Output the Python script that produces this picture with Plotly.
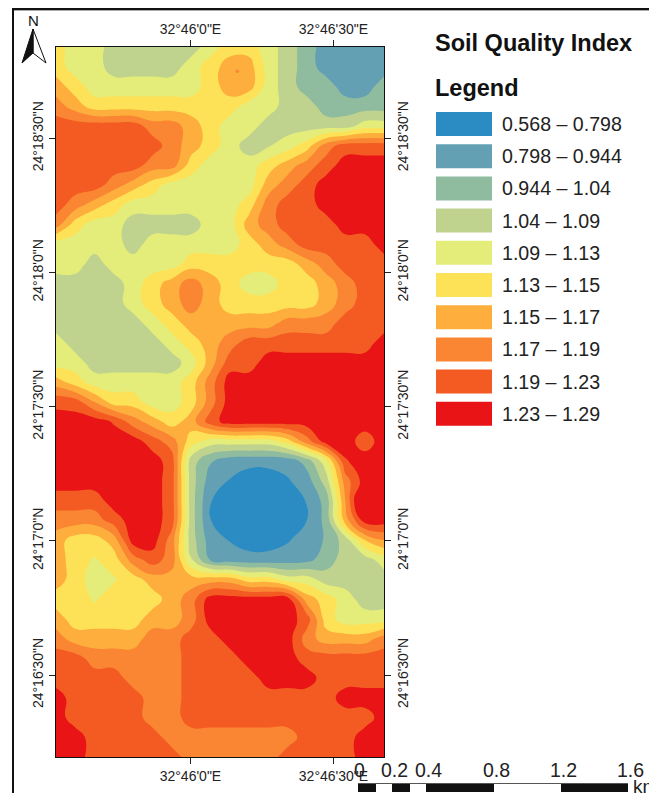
import plotly.graph_objects as go

# Soil quality class score (0 = lowest ... 9 = highest band), north to south
soil_class_rows = [
 "5 4 4 3 3 3 3 3 4 5 5 4 3 2 1 1 1 1",
 "5 4 4 3 3 3 3 4 5 6 6 4 3 2 1 1 1 1",
 "6 5 4 4 4 4 4 4 5 6 6 4 3 2 2 1 1 2",
 "7 6 5 5 5 5 5 5 5 5 4 4 3 3 2 2 2 2",
 "8 8 8 8 8 7 7 6 5 4 4 3 3 3 3 3 4 4",
 "8 8 8 8 8 8 7 6 5 4 3 3.4 4 5 7 8 8 8",
 "8 8 8 8 8 7 7 5 4 4 4 5 6 7 8 9 9 9",
 "8 8 8 7 6 5 4 4 4 4 4 6 7 8 9 9 9 9",
 "8 7 6 5 4 4 4 4 4 4 5 7 8 8 9 9 9 9",
 "7 5 4 4 3 3 3 3 4 4 6 7 8 8 8 9 9 9",
 "4 4 4 4 3 4 4 4 4 4 5 6 7 8 8 8 8 9",
 "4 4 3 4 4 4 4 5 5 5 5 5 5 6 7 8 8 8",
 "3 3 3 3 4 5 6 7 6 5 4 4 5 5 6 7 8 8",
 "3 3 3 3 4 5 6 7 6 5 5 5 5 5 6 7 8 8",
 "3 3 3 3 3 4 5 6 6 6 6 6 7 7 7 8 8 8",
 "4 3 3 3 3 3 4 5 6 7 8 8 8 8 8 8 8 9",
 "4 4 3 3 3 3 3 4 6 8 8 9 9 9 9 9 9 9",
 "6 5 4 4 4 4 4 5 7 9 9 9 9 9 9 9 9 9",
 "8.2 8 6.5 5 5 4 4 5 7 9 9 9 9 9 9 9 9 9",
 "9 9 9 8.4 7 6 5 6 8 9 9 9 9 9 9 9 9 9",
 "9 9 9 9 9 8 7 5 4 4 4 4 5 7 9 9 8 9",
 "9 9 9 9 9 9 8 3 1.6 0.9 0.8 0.8 0.9 1.9 4.2 8.4 9 9",
 "9 9 9 9 9 9 8 3 1 0.45 0 0 0.4 1 3 7 9 9",
 "8 8 8 9 9 9 8 3 0.55 0 0 0 0 0.55 1.9 6.5 11 10",
 "7 7 7 8 9 9 8 3 0.52 0 0 0 0 0.5 1.8 6 9 9",
 "6 5 5 6 9 9 7 3 1 0.45 0 0 0.4 1 1.6 3 5.5 6.5",
 "6 5 4.4 5 7 8 7 3.6 1.4 1 0.9 0.9 1 1.2 2 3 3 4",
 "6 5 4 4.4 5 6 6 6 6 6 5 5 4 4 3 3 3 3",
 "5 5 4.4 5 5 5 6 7 9 9 9 9 9 6 5 4 3 3",
 "6 5 5 5 5 6 6 7 9 9 9 9 9 8 5 4 4 4",
 "7 6 6 6 6 7 7 8 8 9 9 9 9 7 6 6 6 7",
 "8 8 7 7 7 7 7 8 8 8 9 9 9 8 8 8 8 8",
 "8 8 8 8 7 7 7 8 8 8 8 9 9 9 8 8 8 8",
 "9 8 8 8 8 7 7 8 8 8 8 8 8 8 8 9 9 9",
 "9 8 8 8 8 7 7 8 8 8 8 8 8 8 8 8 8 9",
 "9 9 8 8 8 8 7 7 7 7 7 7 7 8 8 8 9 9",
 "9 9 8 8 8 8 8 7 7 7 7 7 8 8 8 8 9 9",
]
class_labels = ["0.568 – 0.798", "0.798 – 0.944", "0.944 – 1.04", "1.04 – 1.09", "1.09 – 1.13",
                "1.13 – 1.15", "1.15 – 1.17", "1.17 – 1.19", "1.19 – 1.23", "1.23 – 1.29"]
class_colors = ["#2b8cc4", "#64a0b4", "#8fbb9f", "#bfd38f", "#e5ed7a",
                "#fde257", "#fdae3c", "#fa8532", "#f45b22", "#e81416"]
# map extent, arc-seconds from 32°46'0"E and 24°16'30"N
lon_west, lon_east = -28.2, 40.6
lat_south, lat_north = -18.3, 140.4
lon_ticks = [0, 30]
lon_tick_labels = ['32°46\'0"E', '32°46\'30"E']
lat_ticks = [0, 30, 60, 90, 120]
lat_tick_labels = ['24°16\'30"N', '24°17\'0"N', '24°17\'30"N', '24°18\'0"N', '24°18\'30"N']
scale_km = ["0", "0.2", "0.4", "0.8", "1.2", "1.6"]

W, H = 649, 793
PX_L, PX_R, PX_T, PX_B = 56, 384, 47, 757
FONT = "Liberation Sans"


def fx(x):
    return x / W


def fy(y):
    return 1 - y / H


z = [[float(v) for v in row.split()] for row in soil_class_rows]
nr, nc = len(z), len(z[0])
lons = [lon_west + (lon_east - lon_west) * i / (nc - 1) for i in range(nc)]
lats = [lat_north - (lat_north - lat_south) * j / (nr - 1) for j in range(nr)]

colorscale = []
for k, c in enumerate(class_colors):
    colorscale += [[k / 10, c], [(k + 1) / 10, c]]

fig = go.Figure()
fig.add_trace(go.Contour(
    x=lons, y=lats[::-1], z=z[::-1], zmin=-0.5, zmax=9.5, colorscale=colorscale, showscale=False,
    autocontour=False, contours=dict(start=0.5, end=8.5, size=1, coloring="fill", showlines=False),
    line=dict(width=0, smoothing=1.3), hoverinfo="skip",
))
# invisible companion trace so the top and right graticule axes exist
fig.add_trace(go.Scatter(x=[lon_west], y=[lat_south], xaxis="x2", yaxis="y2", mode="markers",
                         marker=dict(opacity=0), showlegend=False, hoverinfo="skip"))

tick = dict(ticks="outside", ticklen=6, tickwidth=1, tickcolor="#222", showgrid=False, zeroline=False,
            tickfont=dict(family=FONT, size=14, color="#222"), showline=True, linecolor="#111", linewidth=1)
xdom = [fx(PX_L), fx(PX_R)]
ydom = [fy(PX_B), fy(PX_T)]
fig.update_layout(
    width=W, height=H, autosize=False, margin=dict(l=0, r=0, t=0, b=0), paper_bgcolor="white",
    plot_bgcolor="white", showlegend=False,
    xaxis=dict(domain=xdom, range=[lon_west, lon_east], tickvals=lon_ticks, ticktext=lon_tick_labels, **tick),
    xaxis2=dict(domain=xdom, range=[lon_west, lon_east], tickvals=lon_ticks, ticktext=lon_tick_labels,
                overlaying="x", side="top", anchor="y2", **tick),
    yaxis=dict(domain=ydom, range=[lat_south, lat_north], tickvals=lat_ticks, ticktext=lat_tick_labels,
               tickangle=-90, **tick),
    yaxis2=dict(domain=ydom, range=[lat_south, lat_north], tickvals=lat_ticks, ticktext=lat_tick_labels,
                tickangle=-90, overlaying="y", side="right", anchor="x2", **tick),
)

shapes = []
ann = []


def rect(x0, y0, x1, y1, fill, line=None, lw=0):
    shapes.append(dict(type="rect", xref="paper", yref="paper", x0=fx(x0), x1=fx(x1), y0=fy(y1), y1=fy(y0),
                       fillcolor=fill, line=dict(color=line or fill, width=lw)))


def text(x, y, s, size, bold=False, anchor="left", color="#111"):
    ann.append(dict(xref="paper", yref="paper", x=fx(x), y=fy(y), text=f"<b>{s}</b>" if bold else s,
                    showarrow=False, xanchor=anchor, yanchor="middle", xshift=0, borderpad=0,
                    font=dict(family=FONT, size=size, color=color)))


def path(pts, fill, line="#111", lw=1):
    d = "M " + " L ".join(f"{fx(a):.5f},{fy(b):.5f}" for a, b in pts) + " Z"
    shapes.append(dict(type="path", xref="paper", yref="paper", path=d, fillcolor=fill,
                       line=dict(color=line, width=lw)))


# sheet frame
rect(12, 8, 14, H, "#111")
rect(12, 8, W, 10, "#111")
rect(14, 10, W, 11, "#aaaaaa")

# small high spot on the orange patch
shapes.append(dict(type="circle", xref="paper", yref="paper", x0=fx(235.5), x1=fx(239), y0=fy(73), y1=fy(69.5),
                   fillcolor=class_colors[7], line=dict(width=0)))

# north arrow
path([(33, 29), (46, 63), (33, 53)], "white")
path([(33, 29), (22, 63), (33, 53)], "#111")
text(33, 20, "N", 15, anchor="center")

# legend
text(434, 43, "Soil Quality Index", 23.5, bold=True)
text(434, 88, "Legend", 23.5, bold=True)
for i, (lab, col) in enumerate(zip(class_labels, class_colors)):
    yc = 124 + 32.2 * i
    rect(436, yc - 12, 492, yc + 12, col)
    text(501, yc, lab, 19.6, color="#222")

# scale bar
sx = [358, 392, 426, 494, 561, 628]
segs = [(358, 376, "#111"), (376, 392, "white"), (392, 410, "#111"), (410, 426, "white"),
        (426, 494, "#111"), (494, 561, "white"), (561, 628, "#111")]
rect(358, 783, 628, 784, "#555")
for a, b, c in segs:
    rect(a, 784, b, 792, c)
for x, lab in zip(sx, scale_km):
    text(x + 2, 770, lab, 19.5, anchor="center", color="#222")
text(632, 786, "km", 19, color="#222")

fig.update_layout(shapes=shapes, annotations=ann)
fig.write_html("out.html", config=dict(displayModeBar=False),
               post_script="document.documentElement.style.margin='0';document.body.style.margin='0';")
